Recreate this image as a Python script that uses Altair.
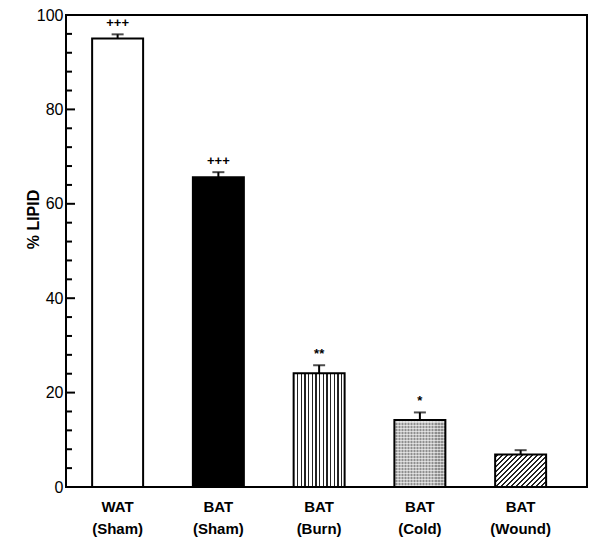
import altair as alt
import pandas as pd

# ---- data ----
categories = ["WAT (Sham)", "BAT (Sham)", "BAT (Burn)", "BAT (Cold)", "BAT (Wound)"]
values = [95.0, 65.6, 24.1, 14.2, 6.9]
errors = [0.9, 1.1, 1.7, 1.6, 0.9]
marks = ["+++", "+++", "**", "*", ""]
y_major = [0, 20, 40, 60, 80, 100]
y_minor = [4, 8, 12, 16, 24, 28, 32, 36, 44, 48, 52, 56, 64, 68, 72, 76, 84, 88, 92, 96]

df = pd.DataFrame({"cat": categories, "value": values, "err": errors, "mark": marks})
df["upper"] = df["value"] + df["err"]

FONT = "Liberation Sans"


def stripes(first, period, count, width, bg, fg, x2=1, y2=0):
    stops = [{"offset": 0, "color": bg}]
    for i in range(count):
        a = first + i * period
        b = a + width
        if b >= 1:
            break
        stops += [{"offset": a, "color": bg}, {"offset": a, "color": fg},
                  {"offset": b, "color": fg}, {"offset": b, "color": bg}]
    stops.append({"offset": 1, "color": bg})
    return {"gradient": "linear", "x1": 0, "y1": 0, "x2": x2, "y2": y2, "stops": stops}


x_enc = alt.X(
    "cat:N", sort=categories, title=None,
    scale=alt.Scale(paddingInner=0.494, paddingOuter=0.3325, align=0.39),
    axis=alt.Axis(labelExpr="split(datum.label, ' ')", labelAngle=0, domain=False,
                  ticks=False, labelFont=FONT, labelFontSize=15, labelFontWeight="bold",
                  labelColor="black", labelPadding=12, labelLineHeight=22,
                  labelBaseline="top"),
)
y_enc = alt.Y(
    "value:Q", title="% LIPID",
    scale=alt.Scale(domain=[0, 100], nice=False),
    axis=alt.Axis(values=y_major, ticks=False, domain=False, grid=False,
                  labelFont=FONT, labelFontSize=16, labelColor="black", labelPadding=3,
                  titleFont=FONT, titleFontSize=16, titleFontWeight="bold",
                  titleColor="black", titleX=-28, titleY=204, titleAngle=270,
                  titleAlign="center", titleBaseline="alphabetic"),
)

base = alt.Chart(df)
stroke = dict(stroke="black", strokeWidth=2)


def bar(cat, **kw):
    return base.transform_filter(alt.datum.cat == cat).mark_bar(**kw).encode(x=x_enc, y=y_enc)


burn_fill = stripes(0.065, 0.072, 13, 0.024, "white", "#222222")
wound_fill = stripes(0.02, 0.0585, 17, 0.02, "white", "#222222", x2=1.2, y2=0.756)
cold_h = stripes(0.0, 0.045, 23, 0.0225, "#cfcfcf", "#8e8e8e", x2=0, y2=1)
cold_v = stripes(0.0, 0.059, 17, 0.0295, "rgba(255,255,255,0)", "rgba(255,255,255,0.4)")

bars = [
    bar(categories[0], fill="white", **stroke),
    bar(categories[1], fill="black", **stroke),
    bar(categories[2], fill=burn_fill, **stroke),
    bar(categories[3], fill=cold_h, strokeWidth=0),
    bar(categories[3], fill=cold_v, **stroke),
    bar(categories[4], fill=wound_fill, **stroke),
]

err_rule = base.mark_rule(color="black", strokeWidth=2).encode(
    x=x_enc, y=alt.Y("value:Q"), y2="upper:Q")
err_cap = base.mark_tick(color="black", size=12, thickness=2).encode(
    x=x_enc, y=alt.Y("upper:Q"))
ann = base.mark_text(dy=-11, fontSize=13, fontWeight="bold", font=FONT, color="black",
                     baseline="middle").encode(x=x_enc, y=alt.Y("upper:Q"), text="mark:N")

major_df = pd.DataFrame({"v": y_major})
minor_df = pd.DataFrame({"v": y_minor})
major_ticks = alt.Chart(major_df).mark_rule(color="black", strokeWidth=2).encode(
    y=alt.Y("v:Q"), x=alt.value(0), x2=alt.value(9))
minor_ticks = alt.Chart(minor_df).mark_rule(color="black", strokeWidth=2).encode(
    y=alt.Y("v:Q"), x=alt.value(0), x2=alt.value(6))

chart = alt.layer(*bars, err_rule, err_cap, ann, major_ticks, minor_ticks).properties(
    width=521, height=472,
    autosize=alt.AutoSizeParams(type="none"),
    padding={"left": 58, "top": 7, "right": 5, "bottom": 60},
    background="white",
).configure_view(stroke="black", strokeWidth=2)

chart.save("out.html", embed_options={"renderer": "svg", "actions": False})
